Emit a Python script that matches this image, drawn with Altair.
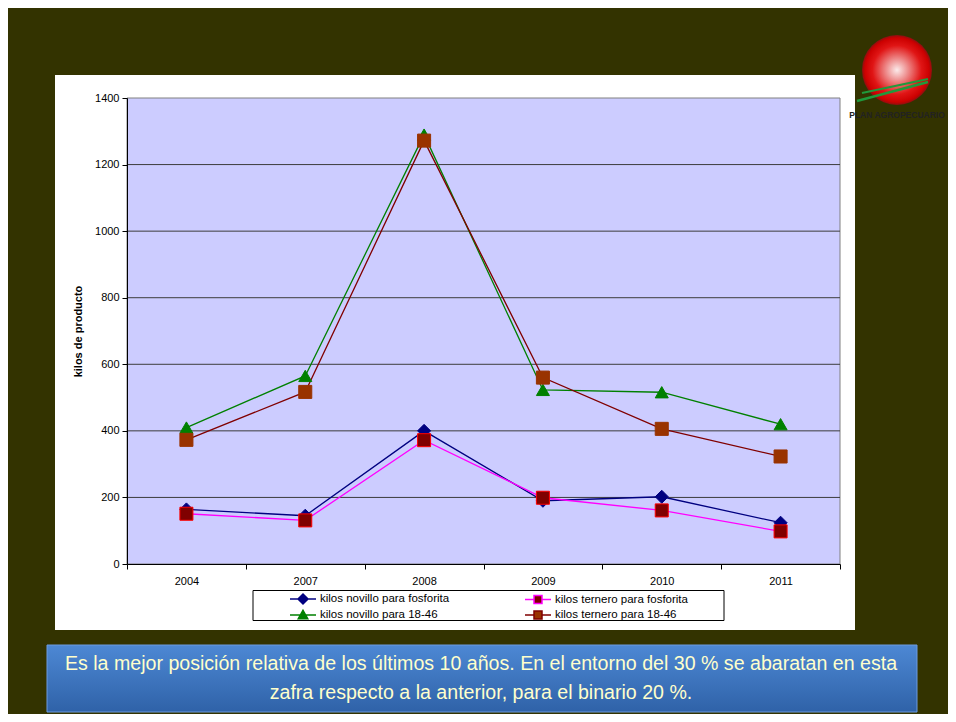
import altair as alt
import pandas as pd

# ---- data ----
years = ["2004", "2007", "2008", "2009", "2010", "2011"]
series_names = [
    "kilos novillo para fosforita",
    "kilos ternero para fosforita",
    "kilos novillo para 18-46",
    "kilos ternero para 18-46",
]
novillo_fosforita = [164, 145, 400, 190, 202, 124]
ternero_fosforita = [151, 131, 372, 199, 161, 98]
novillo_1846 = [410, 565, 1290, 523, 516, 420]
ternero_1846 = [373, 517, 1272, 560, 406, 323]
y_ticks = [0, 200, 400, 600, 800, 1000, 1200, 1400]
grid_vals = [200, 400, 600, 800, 1000, 1200]

line_colors = ["#000080", "#FF00FF", "#008000", "#800000"]
marker_fill = ["#000080", "#800000", "#008000", "#993300"]
marker_stroke = ["#000080", "#FF0000", "#008000", "#993300"]
marker_shapes = ["diamond", "square", "triangle-up", "square"]
legend_shapes = [
    "M-2.6,0H-1M1,0H2.6M0,-1L1,0L0,1L-1,0Z",
    "M-2.6,0H-0.8M0.8,0H2.6M-0.8,-0.8H0.8V0.8H-0.8Z",
    "M-2.6,0H-0.5M0.5,0H2.6M0,-0.95L0.95,0.75L-0.95,0.75Z",
    "M-2.6,0H-0.8M0.8,0H2.6M-0.8,-0.8H0.8V0.8H-0.8Z",
]
# legend fills its columns top-to-bottom: list entries column by column
legend_order = [0, 2, 1, 3]

footer_1 = "Es la mejor posición relativa de los últimos 10 años. En el entorno del 30 % se abaratan en esta"
footer_2 = "zafra respecto a la anterior, para el binario 20 %."

rows = []
for name, vals in zip(series_names, [novillo_fosforita, ternero_fosforita, novillo_1846, ternero_1846]):
    for yr, v in zip(years, vals):
        rows.append({"year": yr, "serie": name, "kilos": v})
df = pd.DataFrame(rows)

W, H = 713, 466
FONT = "Liberation Sans"
one = pd.DataFrame({"a": [0]})

x_enc = alt.X(
    "year:O",
    sort=years,
    bandPosition=0.5,
    scale=alt.Scale(type="band", paddingInner=0, paddingOuter=0, domain=years),
    axis=alt.Axis(
        title=None, tickBand="extent", labelAngle=0, labelFont=FONT, labelFontSize=11,
        labelColor="black", tickColor="black", domainColor="black", tickSize=5,
        labelPadding=6, zindex=1, grid=False,
    ),
)
y_enc = alt.Y(
    "kilos:Q",
    scale=alt.Scale(domain=[0, 1400], nice=False),
    axis=alt.Axis(
        title="kilos de producto", values=y_ticks, format="d", labelFont=FONT, labelFontSize=11,
        labelColor="black", tickColor="black", domainColor="black", tickSize=5,
        labelPadding=3, titleFont=FONT, titleFontSize=11, titleFontWeight="bold",
        titleColor="black", titlePadding=11, zindex=1, grid=False,
    ),
)

# decorative background panels
white_panel = alt.Chart(one).mark_rect(fill="white").encode(
    x=alt.value(-72), x2=alt.value(728), y=alt.value(-23), y2=alt.value(532)
)
plot_bg = alt.Chart(one).mark_rect(fill="#CCCCFF", stroke="#808080", strokeWidth=1).encode(
    x=alt.value(0), x2=alt.value(W), y=alt.value(0), y2=alt.value(H)
)
grid = alt.Chart(pd.DataFrame({"kilos": grid_vals})).mark_rule(color="#3c3c3c", strokeWidth=1).encode(
    y=alt.Y("kilos:Q"), x=alt.value(0), x2=alt.value(W)
)

FOOT_FONT = "Liberation Sans"
footer_box = alt.Chart(one).mark_rect(
    fill=alt.Gradient(
        gradient="linear",
        stops=[alt.GradientStop(color="#4d88d4", offset=0), alt.GradientStop(color="#2f62a8", offset=1)],
        x1=0, x2=0, y1=0, y2=1,
    ),
    stroke="#6d9be0", strokeWidth=1,
).encode(x=alt.value(-80), x2=alt.value(790), y=alt.value(547), y2=alt.value(614))
footer_t1 = alt.Chart(one).mark_text(
    text=footer_1, font=FOOT_FONT,
    fontSize=19.6, color="#FFFFCC", align="center", baseline="middle",
).encode(x=alt.value(354), y=alt.value(566))
footer_t2 = alt.Chart(one).mark_text(
    text=footer_2, font=FOOT_FONT,
    fontSize=19.6, color="#FFFFCC", align="center", baseline="middle",
).encode(x=alt.value(354), y=alt.value(595))

legend_box = alt.Chart(one).mark_rect(fill="white", stroke="black", strokeWidth=1).encode(
    x=alt.value(126), x2=alt.value(597), y=alt.value(492.5), y2=alt.value(522.5)
)

logo_circle = alt.Chart(one).mark_point(
    shape="circle", size=4900, filled=True, opacity=1,
    fill=alt.Gradient(
        gradient="radial",
        stops=[
            alt.GradientStop(color="#fbeaea", offset=0),
            alt.GradientStop(color="#ee9090", offset=0.3),
            alt.GradientStop(color="#e01515", offset=0.7),
            alt.GradientStop(color="#cc0000", offset=0.92),
            alt.GradientStop(color="#8a1010", offset=1),
        ],
        x1=0.5, y1=0.5, r1=0, x2=0.5, y2=0.5, r2=0.5,
    ),
).encode(x=alt.value(770), y=alt.value(-28))
logo_g1 = alt.Chart(one).mark_rule(color="#1f9a3c", strokeWidth=2.5).encode(
    x=alt.value(730), y=alt.value(3), x2=alt.value(801), y2=alt.value(-16)
)
logo_g2 = alt.Chart(one).mark_rule(color="#1f9a3c", strokeWidth=2).encode(
    x=alt.value(735), y=alt.value(-5), x2=alt.value(801), y2=alt.value(-19)
)
logo_text = alt.Chart(one).mark_text(
    text="PLAN AGROPECUARIO", font=FONT, fontSize=8.5, fontWeight="bold",
    color="#222222", align="center", baseline="middle",
).encode(x=alt.value(770), y=alt.value(17))

# data layers
lines = alt.Chart(df).mark_line(strokeWidth=1.3).encode(
    x=x_enc, y=y_enc,
    stroke=alt.Stroke("serie:N", scale=alt.Scale(domain=series_names, range=line_colors), legend=None),
    detail="serie:N",
)
points = alt.Chart(df).mark_point(filled=True, opacity=1, size=170, strokeWidth=1).encode(
    x=x_enc, y=y_enc,
    fill=alt.Fill("serie:N", scale=alt.Scale(domain=series_names, range=marker_fill), legend=None),
    stroke=alt.Stroke("serie:N", scale=alt.Scale(domain=series_names, range=marker_stroke), legend=None),
    shape=alt.Shape("serie:N", scale=alt.Scale(domain=series_names, range=marker_shapes), legend=None),
)

lg_dom = [series_names[i] for i in legend_order]
lg_fill = [marker_fill[i] for i in legend_order]
lg_stroke = [line_colors[i] for i in legend_order]
lg_shape = [legend_shapes[i] for i in legend_order]

leg = alt.Legend(
    orient="none", legendX=170, legendY=495, columns=2, columnPadding=72, rowPadding=0,
    symbolSize=100, labelOffset=11, labelFont=FONT, labelFontSize=11.5, labelColor="black",
    title=None, padding=0, symbolStrokeWidth=1.5, symbolOpacity=1, labelLimit=400,
)
legend_layer = alt.Chart(df).transform_filter("false").mark_point(filled=True, opacity=1).encode(
    x=x_enc, y=y_enc,
    fill=alt.Fill("serie:N", scale=alt.Scale(domain=lg_dom, range=lg_fill), legend=leg),
    stroke=alt.Stroke("serie:N", scale=alt.Scale(domain=lg_dom, range=lg_stroke), legend=leg),
    shape=alt.Shape("serie:N", scale=alt.Scale(domain=lg_dom, range=lg_shape), legend=leg),
)

chart = alt.layer(
    white_panel, plot_bg, grid, footer_box, footer_t1, footer_t2, legend_box,
    logo_circle, logo_g1, logo_g2, lines, points, logo_text, legend_layer,
).resolve_scale(
    fill="independent", stroke="independent", shape="independent"
).properties(
    width=W, height=H,
    padding={"left": 119, "top": 90, "right": 108, "bottom": 150},
    autosize=alt.AutoSizeParams(type="none"),
    background="#333300",
).configure_view(stroke=None, fill=None)

chart.save("out.html", embed_options={"renderer": "svg", "actions": False})
